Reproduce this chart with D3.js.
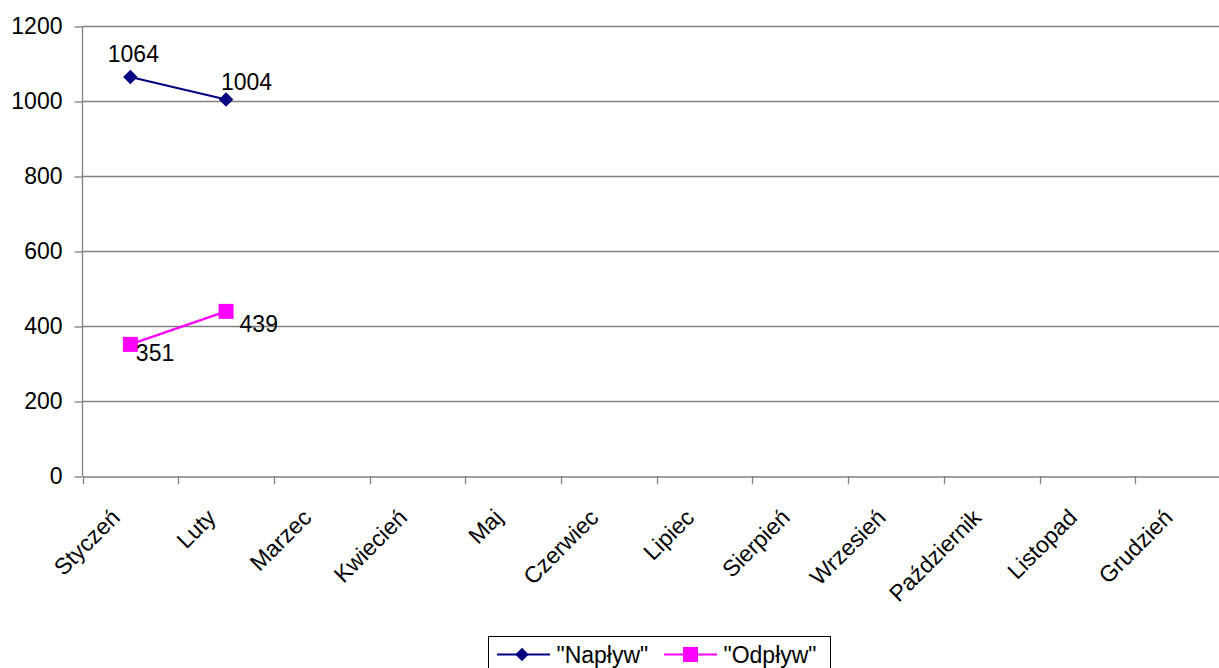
<!DOCTYPE html>
<html><head><meta charset="utf-8">
<script src="https://cdn.jsdelivr.net/npm/d3@7"></script>
<style>
html,body{margin:0;padding:0;background:#fff;overflow:hidden}
text{font-family:"Liberation Sans",Arial,sans-serif;fill:#000}
</style></head>
<body>
<svg id="c" width="1219" height="668"></svg>
<script>
const months = ["Styczeń","Luty","Marzec","Kwiecień","Maj","Czerwiec","Lipiec","Sierpień","Wrzesień","Październik","Listopad","Grudzień"];
const naplyw = [1064, 1004];
const odplyw = [351, 439];
const yTicks = [0, 200, 400, 600, 800, 1000, 1200];
const seriesNames = ['"Napływ"', '"Odpływ"'];

const FS = 23;
const svg = d3.select("#c");
const x = d3.scaleBand().domain(months).range([82.5, 1231]);
const y = d3.scaleLinear().domain([0, 1200]).range([476, 26]);
const grey = "#808080";

// gridlines
svg.append("g").selectAll("line").data(yTicks.filter(d => d > 0)).join("line")
  .attr("x1", 82.5).attr("x2", 1231)
  .attr("y1", d => Math.round(y(d)) + 0.5).attr("y2", d => Math.round(y(d)) + 0.5)
  .attr("stroke", grey).attr("stroke-width", 1.3);

// y axis
const ya = svg.append("g").attr("transform", "translate(82.5,0.5)")
  .call(d3.axisLeft(y).tickValues(yTicks).tickFormat(d3.format("d")).tickSize(8).tickPadding(12));
ya.select(".domain").attr("stroke", grey).attr("stroke-width", 1.3).attr("d", "M0," + y(1200) + "V" + y(0));
ya.selectAll("line").attr("stroke", grey).attr("stroke-width", 1.3);
ya.selectAll("text").attr("font-size", FS).attr("font-family", "Liberation Sans, Arial, sans-serif").attr("fill", "#000");

// x axis
const xa = svg.append("g").attr("transform", "translate(0,476.5)")
  .call(d3.axisBottom(x).tickSizeOuter(0).tickSize(0).tickFormat(""));
xa.select(".domain").attr("stroke", grey).attr("stroke-width", 1.3);
svg.append("g").selectAll("line").data(months).join("line")
  .attr("x1", d => Math.round(x(d)) + 0.5).attr("x2", d => Math.round(x(d)) + 0.5)
  .attr("y1", 476).attr("y2", 484).attr("stroke", grey).attr("stroke-width", 1.3);
svg.append("g").selectAll("text").data(months).join("text")
  .attr("font-size", FS)
  .attr("text-anchor", "end")
  .attr("transform", d => `translate(${x(d) + x.bandwidth()/2 - 9},${519}) rotate(-45)`)
  .text(d => d);

const cx = i => x(months[i]) + x.bandwidth()/2;

// series lines
const line = d3.line().x((d, i) => cx(i)).y(d => y(d));
svg.append("path").datum(naplyw).attr("d", line).attr("fill", "none").attr("stroke", "#000080").attr("stroke-width", 2.2);
svg.append("path").datum(odplyw).attr("d", line).attr("fill", "none").attr("stroke", "#FF00FF").attr("stroke-width", 2.2);

const diamond = d3.symbol().type(d3.symbolSquare).size(105);
svg.append("g").selectAll("path").data(naplyw).join("path")
  .attr("d", diamond)
  .attr("transform", (d, i) => `translate(${cx(i)},${y(d)}) rotate(45)`)
  .attr("fill", "#000080");
svg.append("g").selectAll("rect").data(odplyw).join("rect")
  .attr("x", (d, i) => cx(i) - 7.5).attr("y", d => y(d) - 7.5)
  .attr("width", 15).attr("height", 15).attr("fill", "#FF00FF");

// data labels
const napOff = [[3, -15], [20.5, -9.5]];
const odpOff = [[5.5, 16.6], [13.5, 20.6]];
svg.append("g").selectAll("text").data(naplyw).join("text")
  .attr("font-size", FS).attr("text-anchor", "middle")
  .attr("x", (d, i) => cx(i) + napOff[i][0]).attr("y", (d, i) => y(d) + napOff[i][1])
  .text(d => d);
svg.append("g").selectAll("text").data(odplyw).join("text")
  .attr("font-size", FS).attr("text-anchor", "start")
  .attr("x", (d, i) => cx(i) + odpOff[i][0]).attr("y", (d, i) => y(d) + odpOff[i][1])
  .text(d => d);

// legend
const lg = svg.append("g");
lg.append("rect").attr("x", 488.5).attr("y", 636.5).attr("width", 342).attr("height", 40)
  .attr("fill", "#fff").attr("stroke", "#000").attr("stroke-width", 1);
const items = [
  {name: seriesNames[0], color: "#000080", x0: 497, type: "d"},
  {name: seriesNames[1], color: "#FF00FF", x0: 664, type: "s"}
];
const lgDiamond = d3.symbol().type(d3.symbolSquare).size(90);
items.forEach(it => {
  lg.append("line").attr("x1", it.x0).attr("x2", it.x0 + 53).attr("y1", 654.5).attr("y2", 654.5)
    .attr("stroke", it.color).attr("stroke-width", 2.2);
  if (it.type === "d") {
    lg.append("path").attr("d", lgDiamond).attr("transform", `translate(${it.x0 + 25},654.5) rotate(45)`).attr("fill", it.color);
  } else {
    lg.append("rect").attr("x", it.x0 + 19).attr("y", 647).attr("width", 15).attr("height", 15).attr("fill", it.color);
  }
  lg.append("text").attr("x", it.x0 + 59.5).attr("y", 662.5).attr("font-size", FS).text(it.name);
});
</script>
</body></html>
